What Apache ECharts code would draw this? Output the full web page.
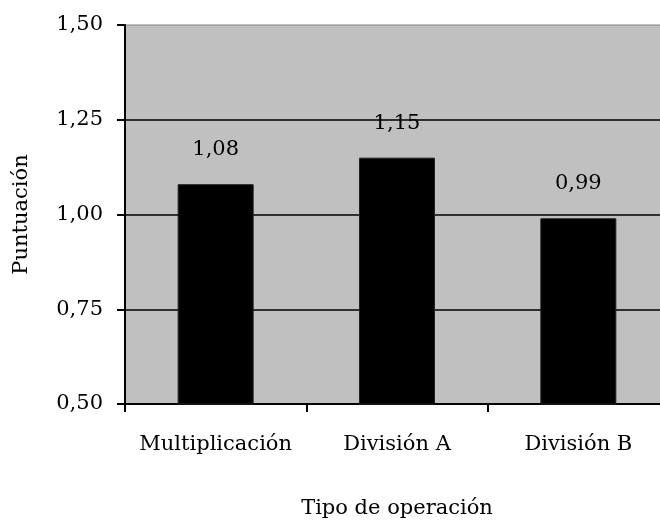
<!DOCTYPE html>
<html>
<head>
<meta charset="utf-8">
<script src="https://cdn.jsdelivr.net/npm/echarts@6/dist/echarts.min.js"></script>
<style>
  html, body { margin: 0; padding: 0; background: #fff; }
  #chart { width: 660px; height: 522px; }
</style>
</head>
<body>
<div id="chart"></div>
<script>
const categories = ['Multiplicación', 'División A', 'División B']
const scores = [1.08, 1.15, 0.99]
const yTicks = { min: 0.5, max: 1.5, interval: 0.25 }

const font = 'DejaVu Serif'
const comma = v => v.toFixed(2).replace('.', ',')

const chart = echarts.init(document.getElementById('chart'))
chart.setOption({
  animation: false,
  textStyle: { fontFamily: font, color: '#000' },
  grid: {
    left: 125,
    top: 25,
    width: 544,
    height: 379,
    outerBoundsMode: 'none',
    containLabel: false,
    show: true,
    backgroundColor: '#c0c0c0',
    borderColor: '#808080',
    borderWidth: 1
  },
  xAxis: {
    type: 'category',
    data: categories,
    name: 'Tipo de operación',
    nameLocation: 'middle',
    nameGap: 94,
    nameTextStyle: { fontFamily: font, fontSize: 21, color: '#000' },
    axisLine: { show: true, lineStyle: { color: '#000', width: 2 } },
    axisTick: { show: true, interval: 0, length: 8, lineStyle: { color: '#000', width: 2 } },
    axisLabel: { interval: 0, fontFamily: font, fontSize: 21, color: '#000', margin: 30 }
  },
  yAxis: {
    type: 'value',
    min: yTicks.min,
    max: yTicks.max,
    interval: yTicks.interval,
    name: 'Puntuación',
    nameLocation: 'middle',
    nameGap: 93,
    nameTextStyle: { fontFamily: font, fontSize: 21, color: '#000' },
    axisLine: { show: true, lineStyle: { color: '#000', width: 2 } },
    axisTick: { show: true, length: 8, lineStyle: { color: '#000', width: 2 } },
    axisLabel: { fontFamily: font, fontSize: 21, color: '#000', margin: 22, formatter: comma },
    splitLine: { showMaxLine: false, lineStyle: { color: '#000', width: 1.5 } }
  },
  series: [
    {
      type: 'bar',
      data: scores,
      barWidth: 76,
      itemStyle: { color: '#000', borderColor: '#222', borderWidth: 1 },
      label: {
        show: true,
        position: 'top',
        distance: 24,
        fontFamily: font,
        fontSize: 21,
        color: '#000',
        formatter: p => comma(p.value)
      }
    }
  ]
})
</script>
</body>
</html>
